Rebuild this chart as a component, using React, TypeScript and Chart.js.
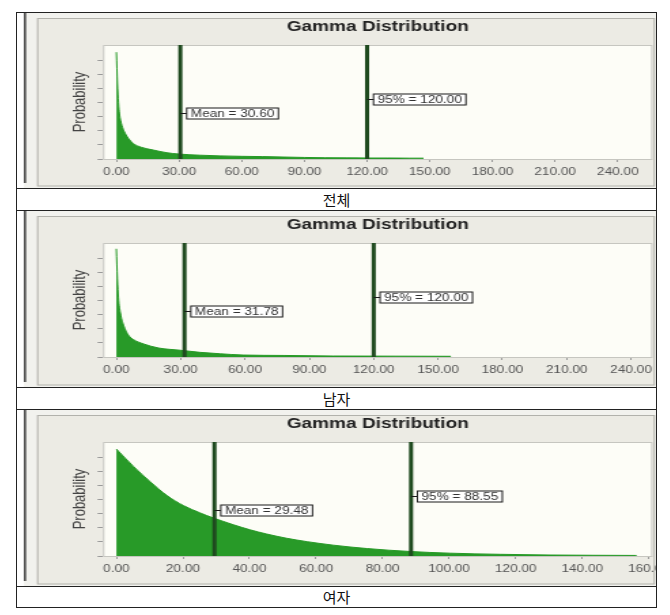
import React, { useEffect, useRef } from 'react';
import { Chart, registerables } from 'chart.js';

Chart.register(...registerables);

// ---------- data ----------
const categories = ['전체', '남자', '여자'];
const meanValues = [30.6, 31.78, 29.48];
const p95Values = [120.0, 120.0, 88.55];

const xTicksTotal = [0, 30, 60, 90, 120, 150, 180, 210, 240];
const xTicksMale = [0, 30, 60, 90, 120, 150, 180, 210, 240];
const xTicksFemale = [0, 20, 40, 60, 80, 100, 120, 140, 160];
const yTickValues = [0, 1, 2, 3, 4, 5, 6, 7];

const totalX = [0, 0.5, 1, 1.5, 2, 3.3, 4.5, 5.7, 8, 12, 17.6, 24, 30, 40, 50, 60, 70, 80, 90, 100, 110, 120, 130, 140, 147];
const totalY = [7.59, 5.4, 4.0, 3.2, 2.75, 2.11, 1.75, 1.47, 1.11, 0.83, 0.64, 0.45, 0.35, 0.27, 0.22, 0.19, 0.17, 0.14, 0.11, 0.09, 0.08, 0.07, 0.07, 0.06, 0.06];

const maleX = [0, 0.5, 1, 1.9, 3.4, 5.7, 8.1, 12.7, 19.7, 29.8, 39, 48.4, 59, 78, 101, 130, 156];
const maleY = [7.69, 5.6, 4.2, 3.13, 2.26, 1.54, 1.23, 0.93, 0.64, 0.48, 0.33, 0.23, 0.14, 0.11, 0.07, 0.06, 0.05];

const femaleX = [0, 5.2, 10.2, 15.2, 20.2, 25.2, 29.2, 35.2, 40.2, 45.2, 51.2, 57.3, 65.2, 75.3, 88.3, 100.3, 115.3, 130.3, 156.3];
const femaleY = [7.6, 6.35, 5.27, 4.3, 3.58, 3.06, 2.7, 2.22, 1.86, 1.56, 1.26, 1.02, 0.77, 0.53, 0.32, 0.2, 0.12, 0.07, 0.04];

// ---------- layout constants ----------
const FONT = "'Liberation Sans', Arial, Helvetica, sans-serif";
const CSS_W = 639;
const CW = 470;
const S = CSS_W / CW; // horizontal stretch of the original screenshot
const cx = (page: number) => (page - 17) / S;

type PanelProps = {
  xs: number[];
  ys: number[];
  mean: number;
  p95: number;
  xMin: number;
  xMax: number;
  xTicks: number[];
  cellH: number;
};

function GammaPanel({ xs, ys, mean, p95, xMin, xMax, xTicks, cellH }: PanelProps) {
  const ref = useRef<HTMLCanvasElement>(null);

  useEffect(() => {
    const canvas = ref.current;
    if (!canvas) return;
    const plotBottom = 146;
    const xAxisH = 20;
    const leftPad = 10;
    const plotLeft = cx(103);
    const plotRight = cx(652.5);

    const panelPlugin = {
      id: 'panelBg',
      beforeDraw(chart: any) {
        const { ctx, chartArea: a, width, height } = chart;
        ctx.save();
        ctx.fillStyle = '#f2f2ee';
        ctx.fillRect(0, 0, width, height);
        ctx.fillStyle = '#ffffff';
        ctx.fillRect(0, 0, cx(24), height);
        ctx.fillStyle = '#3a3a3a';
        ctx.fillRect(cx(24), 0, cx(26) - cx(24), height - 5);
        const bl = cx(37);
        const br = cx(655);
        ctx.fillStyle = '#ecebe4';
        ctx.fillRect(bl, 5, br - bl, height - 6.5);
        ctx.strokeStyle = '#b2b2ac';
        ctx.lineWidth = 1;
        ctx.strokeRect(bl + 0.5, 5.5, br - bl - 1, height - 7.5);
        ctx.fillStyle = '#fdfdf7';
        ctx.fillRect(a.left, a.top, a.right - a.left, a.bottom - a.top);
        ctx.restore();
      },
      afterDatasetsDraw(chart: any) {
        const { ctx, chartArea: a } = chart;
        const xs = chart.scales.x;
        ctx.save();
        ctx.strokeStyle = '#c6c6c0';
        ctx.lineWidth = 1;
        ctx.strokeRect(a.left + 0.5, a.top + 0.5, a.right - a.left - 1, a.bottom - a.top);
        const marks = [
          { v: mean, text: `Mean = ${mean.toFixed(2)}`, frac: 0.593 },
          { v: p95, text: `95% = ${p95.toFixed(2)}`, frac: 0.477 },
        ];
        const h = a.bottom - a.top;
        marks.forEach((m) => {
          const lx = xs.getPixelForValue(m.v);
          ctx.fillStyle = '#1f4a1f';
          ctx.fillRect(lx - 1.5, a.top, 3, h);
          const cy = Math.round(a.top + m.frac * h) + 0.5;
          ctx.font = `10px ${FONT}`;
          const tw = ctx.measureText(m.text).width;
          const bx = lx + 4.7;
          const bw = tw + 6;
          const bh = 11;
          ctx.fillStyle = '#ffffff';
          ctx.fillRect(bx, cy - bh / 2, bw, bh);
          ctx.strokeStyle = '#1a1a1a';
          ctx.lineWidth = 1;
          ctx.strokeRect(bx, cy - bh / 2, bw, bh);
          ctx.beginPath();
          ctx.moveTo(lx, cy);
          ctx.lineTo(bx, cy);
          ctx.stroke();
          ctx.fillStyle = '#333333';
          ctx.textBaseline = 'middle';
          ctx.textAlign = 'left';
          ctx.fillText(m.text, bx + 3, cy + 0.5);
        });
        ctx.restore();
      },
    };

    const chart = new Chart(canvas, {
      type: 'line',
      data: {
        datasets: [
          {
            data: xs.map((x, i) => ({ x, y: ys[i] })),
            fill: 'origin',
            backgroundColor: '#289a28',
            borderColor: '#289a28',
            borderWidth: 1,
            pointRadius: 0,
            cubicInterpolationMode: 'monotone',
          },
        ],
      },
      options: {
        animation: false,
        responsive: false,
        devicePixelRatio: 1,
        events: [],
        layout: {
          padding: { left: leftPad, right: CW - plotRight, top: 0, bottom: cellH - plotBottom - xAxisH },
        },
        plugins: {
          legend: { display: false },
          tooltip: { enabled: false },
          title: {
            display: true,
            text: 'Gamma Distribution',
            fullSize: false,
            color: '#222222',
            font: { family: FONT, size: 14, weight: 'bold' },
            padding: { top: 6.1, bottom: 9.1 },
          },
        },
        scales: {
          x: {
            type: 'linear',
            min: xMin,
            max: xMax,
            afterBuildTicks: (s: any) => {
              s.ticks = xTicks.map((v) => ({ value: v }));
            },
            afterFit: (s: any) => {
              s.height = xAxisH;
              s.paddingLeft = 0;
              s.paddingRight = 0;
            },
            ticks: {
              autoSkip: false,
              maxRotation: 0,
              minRotation: 0,
              padding: 4.5,
              color: '#555555',
              font: { family: FONT, size: 10 },
              callback: (v: any) => Number(v).toFixed(2),
            },
            grid: { display: true, drawOnChartArea: false, drawTicks: true, tickLength: 3, color: '#9a9a9a' },
            border: { display: false },
          },
          y: {
            type: 'linear',
            min: 0,
            max: 8.1,
            afterBuildTicks: (s: any) => {
              s.ticks = yTickValues.map((v) => ({ value: v }));
            },
            afterFit: (s: any) => {
              s.width = plotLeft - leftPad;
              s.paddingTop = 0;
              s.paddingBottom = 0;
            },
            ticks: { display: false },
            grid: { display: true, drawOnChartArea: false, drawTicks: true, tickLength: 4, color: '#9a9a9a' },
            border: { display: false },
            title: {
              display: true,
              text: 'Probability',
              color: '#444444',
              font: { family: FONT, size: 13 },
              padding: { top: 28.5, bottom: 0 },
            },
          },
        },
      } as any,
      plugins: [panelPlugin],
    });
    return () => chart.destroy();
  }, [xs, ys, mean, p95, xMin, xMax, xTicks, cellH]);

  return (
    <canvas
      ref={ref}
      width={CW}
      height={cellH}
      style={{ width: CSS_W, height: cellH, display: 'block' }}
    />
  );
}

const panels = [
  { xs: totalX, ys: totalY, xMin: -6.4, xMax: 256.6, xTicks: xTicksTotal, cellH: 175, labelH: 21 },
  { xs: maleX, ys: maleY, xMin: -6.2, xMax: 250, xTicks: xTicksMale, cellH: 176, labelH: 21 },
  { xs: femaleX, ys: femaleY, xMin: -4, xMax: 161.1, xTicks: xTicksFemale, cellH: 176, labelH: 20 },
];

export default function App() {
  return (
    <div
      style={{
        position: 'absolute',
        left: 16,
        top: 12,
        width: 641,
        border: '1px solid #222',
        boxSizing: 'border-box',
        background: '#ffffff',
      }}
    >
      {panels.map((p, i) => (
        <React.Fragment key={i}>
          <div style={{ height: p.cellH, borderTop: i > 0 ? '1px solid #222' : 'none' }}>
            <GammaPanel
              xs={p.xs}
              ys={p.ys}
              mean={meanValues[i]}
              p95={p95Values[i]}
              xMin={p.xMin}
              xMax={p.xMax}
              xTicks={p.xTicks}
              cellH={p.cellH}
            />
          </div>
          <div
            style={{
              height: p.labelH,
              borderTop: '1px solid #222',
              textAlign: 'center',
              fontFamily: '"Noto Sans CJK KR", sans-serif',
              fontSize: 15,
              lineHeight: `${p.labelH}px`,
              color: '#111',
            }}
          >
            {categories[i]}
          </div>
        </React.Fragment>
      ))}
    </div>
  );
}
